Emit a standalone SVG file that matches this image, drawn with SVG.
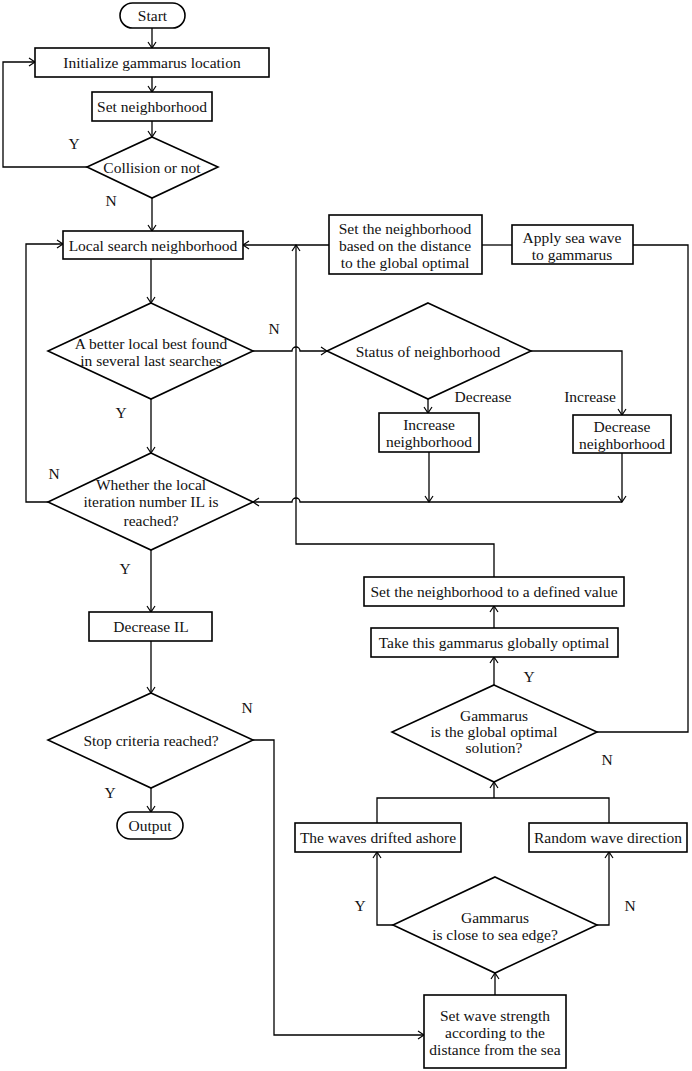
<svg xmlns="http://www.w3.org/2000/svg" width="692" height="1071" viewBox="0 0 692 1071">
<style>
.s{fill:#fff;stroke:#000;stroke-width:1.6}
.c{fill:none;stroke:#000;stroke-width:1.3}
text{font-family:"Liberation Serif","Times New Roman",serif;font-size:15.5px;fill:#111;text-anchor:middle;dominant-baseline:central}
</style>
<defs>
<marker id="a" viewBox="-7 -5 8 10" refX="0" refY="0" markerWidth="8" markerHeight="10" markerUnits="userSpaceOnUse" orient="auto">
<path d="M-6,-4 L0,0 L-6,4" fill="none" stroke="#000" stroke-width="1.2"/>
</marker>
</defs>
<rect width="692" height="1071" fill="#fff"/>
<g id="connectors">
<path class="c" d="M152,28 V48" marker-end="url(#a)"/>
<path class="c" d="M152,77 V92" marker-end="url(#a)"/>
<path class="c" d="M152,121 V137" marker-end="url(#a)"/>
<path class="c" d="M87,167 H3 V62 H35" marker-end="url(#a)"/>
<path class="c" d="M152,198 V231" marker-end="url(#a)"/>
<path class="c" d="M151,259 V303" marker-end="url(#a)"/>
<path class="c" d="M151,399 V453" marker-end="url(#a)"/>
<path class="c" d="M253,351 H292 A4,4 0 0 1 300,351 H327" marker-end="url(#a)"/>
<path class="c" d="M48,502 H26 V244 H63" marker-end="url(#a)"/>
<path class="c" d="M151,550 V612" marker-end="url(#a)"/>
<path class="c" d="M151,641 V693" marker-end="url(#a)"/>
<path class="c" d="M151,788 V812" marker-end="url(#a)"/>
<path class="c" d="M253,740 H274 V1035 H424" marker-end="url(#a)"/>
<path class="c" d="M428,399 V413" marker-end="url(#a)"/>
<path class="c" d="M531,351 H622 V415" marker-end="url(#a)"/>
<path class="c" d="M429,452 V502" marker-end="url(#a)"/>
<path class="c" d="M622,453 V502" marker-end="url(#a)"/>
<path class="c" d="M622,502 H300 A4,4 0 0 0 292,502 H253" marker-end="url(#a)"/>
<path class="c" d="M494,577 V544 H296 V245" marker-end="url(#a)"/>
<path class="c" d="M329,245 H243" marker-end="url(#a)"/>
<path class="c" d="M512,245 H482"/>
<path class="c" d="M597,732 H688 V245 H633"/>
<path class="c" d="M494,628 V606" marker-end="url(#a)"/>
<path class="c" d="M494,685 V657" marker-end="url(#a)"/>
<path class="c" d="M377,823 V798 H609 V823"/>
<path class="c" d="M494,798 V782" marker-end="url(#a)"/>
<path class="c" d="M393,925 H377 V852" marker-end="url(#a)"/>
<path class="c" d="M597,925 H609 V852" marker-end="url(#a)"/>
<path class="c" d="M495,995 V973" marker-end="url(#a)"/>
</g>
<g id="labels">
<text x="74" y="143">Y</text>
<text x="111" y="200">N</text>
<text x="274" y="328">N</text>
<text x="121" y="412">Y</text>
<text x="54" y="473">N</text>
<text x="125" y="568">Y</text>
<text x="247" y="707">N</text>
<text x="110" y="792">Y</text>
<text x="483" y="396">Decrease</text>
<text x="590" y="396">Increase</text>
<text x="529" y="676">Y</text>
<text x="607" y="759">N</text>
<text x="360" y="905">Y</text>
<text x="630" y="905">N</text>
</g>
<g id="start"><rect class="s" x="120" y="3" width="65" height="25" rx="12.5"/><text x="152.5" y="15.5">Start</text></g>
<g id="init"><rect class="s" x="35" y="48" width="234" height="29"/><text x="152" y="62.5">Initialize gammarus location</text></g>
<g id="setn"><rect class="s" x="92" y="92" width="120" height="29"/><text x="152" y="106.5">Set neighborhood</text></g>
<g id="collision"><polygon class="s" points="152,137 218,167 152,198 87,167"/><text x="152" y="167">Collision or not</text></g>
<g id="local"><rect class="s" x="63" y="231" width="180" height="28"/><text x="153" y="245">Local search neighborhood</text></g>
<g id="better"><polygon class="s" points="151,303 253,351 151,399 48,351"/><text x="151" y="343">A better local best found</text><text x="151" y="360">in several last searches</text></g>
<g id="whether"><polygon class="s" points="151,453 253,502 151,550 48,502"/><text x="151" y="484">Whether the local</text><text x="151" y="501">iteration number IL is</text><text x="151" y="520">reached?</text></g>
<g id="decil"><rect class="s" x="89" y="612" width="123" height="29"/><text x="151" y="626.5">Decrease IL</text></g>
<g id="stop"><polygon class="s" points="151,693 253,740 151,788 48,740"/><text x="151" y="740">Stop criteria reached?</text></g>
<g id="output"><rect class="s" x="117" y="812" width="66" height="27" rx="13.5"/><text x="150" y="825.5">Output</text></g>
<g id="setdist"><rect class="s" x="329" y="215" width="153" height="59"/><text x="405" y="228">Set the neighborhood</text><text x="405" y="245">based on the distance</text><text x="405" y="262">to the global optimal</text></g>
<g id="apply"><rect class="s" x="512" y="225" width="121" height="39"/><text x="572" y="237">Apply sea wave</text><text x="572" y="254">to gammarus</text></g>
<g id="status"><polygon class="s" points="428,303 531,351 428,399 327,351"/><text x="428" y="351">Status of neighborhood</text></g>
<g id="incr"><rect class="s" x="379" y="413" width="100" height="39"/><text x="429" y="424">Increase</text><text x="429" y="441">neighborhood</text></g>
<g id="decr"><rect class="s" x="573" y="415" width="98" height="38"/><text x="622" y="426">Decrease</text><text x="622" y="443">neighborhood</text></g>
<g id="setdef"><rect class="s" x="364" y="577" width="260" height="29"/><text x="494" y="591.5">Set the neighborhood to a defined value</text></g>
<g id="take"><rect class="s" x="371" y="628" width="247" height="29"/><text x="494" y="642.5">Take this gammarus globally optimal</text></g>
<g id="globalopt"><polygon class="s" points="494,685 597,732 494,782 392,732"/><text x="494" y="715">Gammarus</text><text x="494" y="731">is the global optimal</text><text x="494" y="747">solution?</text></g>
<g id="ashore"><rect class="s" x="295" y="823" width="166" height="29"/><text x="378" y="837.5">The waves drifted ashore</text></g>
<g id="random"><rect class="s" x="529" y="823" width="158" height="29"/><text x="608" y="837.5">Random wave direction</text></g>
<g id="close"><polygon class="s" points="495,877 597,925 495,973 393,925"/><text x="495" y="917">Gammarus</text><text x="495" y="934">is close to sea edge?</text></g>
<g id="strength"><rect class="s" x="424" y="995" width="142" height="73"/><text x="495" y="1015">Set wave strength</text><text x="495" y="1032">according to the</text><text x="495" y="1049">distance from the sea</text></g>
</svg>
